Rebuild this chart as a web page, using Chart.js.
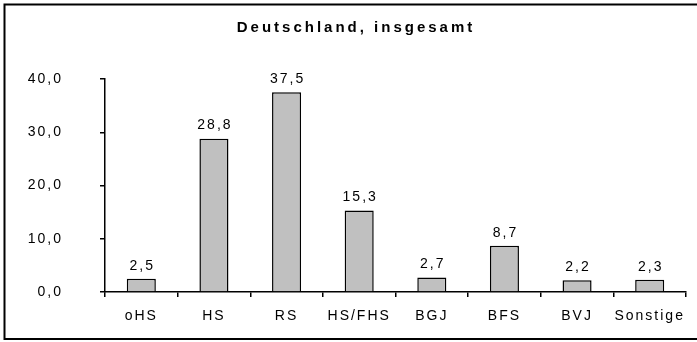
<!DOCTYPE html>
<html>
<head>
<meta charset="utf-8">
<script src="https://cdn.jsdelivr.net/npm/chart.js@4/dist/chart.umd.min.js"></script>
<style>
  html, body { margin: 0; padding: 0; background: #fff; }
  #wrap { width: 697px; height: 342px; position: relative; }
</style>
</head>
<body>
<div id="wrap"><canvas id="chart" width="697" height="342"></canvas></div>
<script>
// Schulabschluss-Verteilung, Anteile in Prozent
const kategorien = ["oHS", "HS", "RS", "HS/FHS", "BGJ", "BFS", "BVJ", "Sonstige"];
const anteile = [2.5, 28.8, 37.5, 15.3, 2.7, 8.7, 2.2, 2.3];
const yTicks = [0, 10, 20, 30, 40];
const titel = "Deutschland, insgesamt";

const fmt = v => v.toFixed(1).replace(".", ",");
const schrift = "'Liberation Sans', Arial, sans-serif";

// Rahmen, Titel, Zeichenabstand und Werte über den Balken
const extras = {
  id: "extras",
  beforeDraw(chart) {
    const ctx = chart.ctx;
    ctx.letterSpacing = "2px";
    ctx.save();
    ctx.strokeStyle = "#000";
    ctx.lineWidth = 2;
    ctx.strokeRect(4.5, 4.5, 720, 334.5);
    ctx.font = "bold 15px " + schrift;
    ctx.letterSpacing = "3px";
    ctx.fillStyle = "#000";
    ctx.textAlign = "center";
    ctx.textBaseline = "middle";
    ctx.fillText(titel, 356, 28);
    ctx.restore();
  },
  afterDatasetsDraw(chart) {
    const ctx = chart.ctx;
    const meta = chart.getDatasetMeta(0);
    ctx.save();
    ctx.font = "14px " + schrift;
    ctx.letterSpacing = "2px";
    ctx.fillStyle = "#000";
    ctx.textAlign = "center";
    ctx.textBaseline = "bottom";
    meta.data.forEach((bar, i) => {
      ctx.fillText(fmt(anteile[i]), bar.x + 1, bar.y - 6);
    });
    ctx.restore();
  }
};

new Chart(document.getElementById("chart"), {
  type: "bar",
  data: {
    labels: kategorien,
    datasets: [{
      data: anteile,
      backgroundColor: "#c0c0c0",
      borderColor: "#000",
      borderWidth: 1.5,
      barPercentage: 0.8,
      categoryPercentage: 0.5
    }]
  },
  options: {
    responsive: false,
    animation: false,
    layout: { padding: { top: 79, left: 0, right: 11, bottom: 0 } },
    plugins: { legend: { display: false }, tooltip: { enabled: false } },
    scales: {
      x: {
        offset: true,
        grid: { display: true, drawOnChartArea: false, tickLength: 5, color: "#000", lineWidth: 1.5, offset: true },
        border: { color: "#000", width: 1.5 },
        ticks: { color: "#000", font: { family: schrift, size: 14 }, padding: 11, maxRotation: 0, autoSkip: false },
        afterFit(s) { s.height = 50; }
      },
      y: {
        min: 0,
        max: 40,
        afterBuildTicks(s) { s.ticks = yTicks.map(v => ({ value: v })); },
        grid: { display: true, drawOnChartArea: false, tickLength: 5, color: "#000", lineWidth: 1.5 },
        border: { color: "#000", width: 1.5 },
        ticks: { color: "#000", font: { family: schrift, size: 14 }, padding: 37, callback: v => fmt(v) },
        afterFit(s) { s.width = 105; }
      }
    }
  },
  plugins: [extras]
});
</script>
</body>
</html>
